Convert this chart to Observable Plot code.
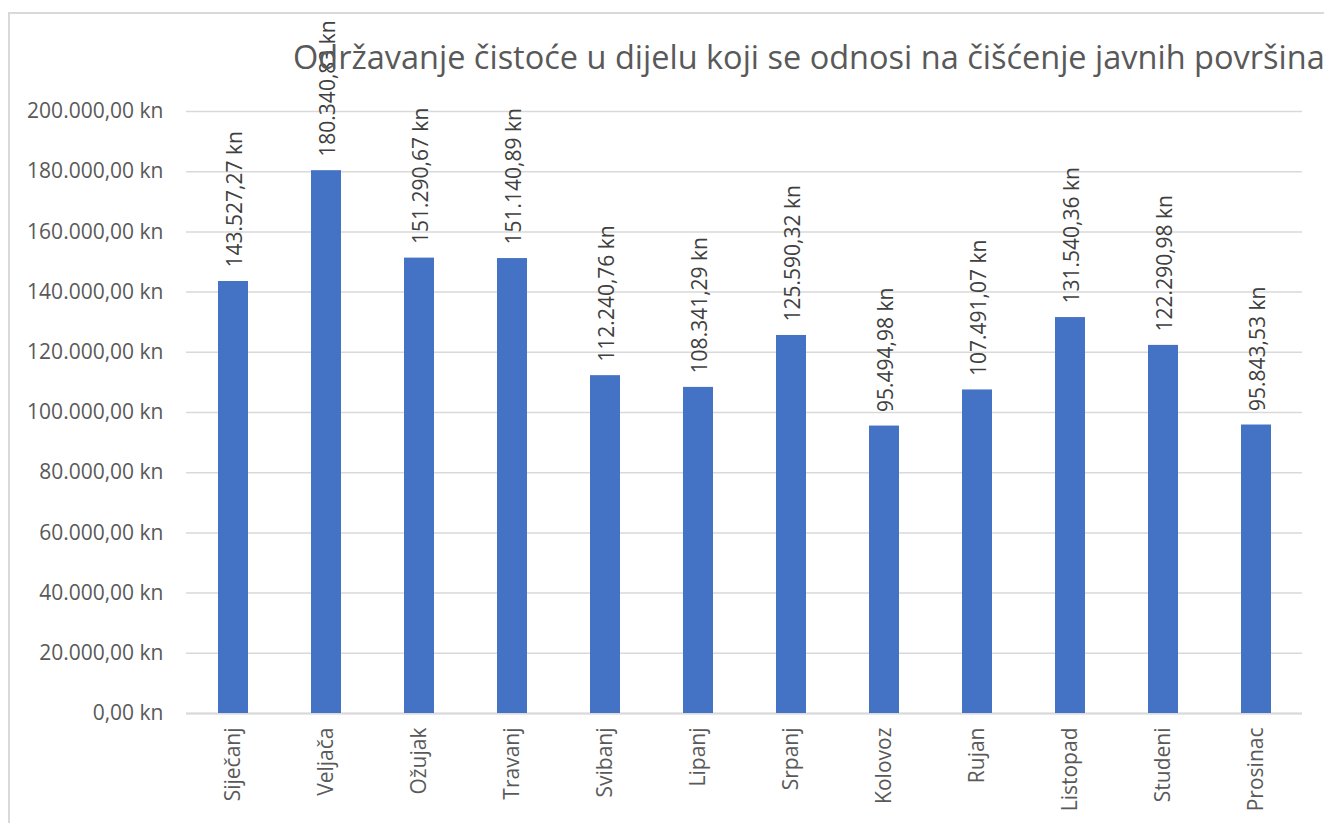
<!DOCTYPE html>
<html>
<head>
<meta charset="utf-8">
<script src="https://cdn.jsdelivr.net/npm/d3@7"></script>
<script src="https://cdn.jsdelivr.net/npm/@observablehq/plot@0.6"></script>
<style>
  html, body { margin: 0; padding: 0; background: #fff; }
  #wrap { position: relative; width: 1324px; height: 823px; overflow: hidden; font-family: "Open Sans", sans-serif; }
  #frame { position: absolute; left: 8px; top: 12px; width: 1400px; height: 900px; border-left: 2px solid #d9d9d9; border-top: 2px solid #d9d9d9; }
  #title { position: absolute; left: 293px; top: 34px; font-size: 32.5px; color: #595959; white-space: nowrap; font-family: "Open Sans", sans-serif; }
  #chart { position: absolute; left: 0; top: 0; }
</style>
</head>
<body>
<div id="wrap">
  <div id="frame"></div>
  <div id="chart"></div>
  <div id="title">Održavanje čistoće u dijelu koji se odnosi na čišćenje javnih površina</div>
</div>
<script>
const months = ["Siječanj","Veljača","Ožujak","Travanj","Svibanj","Lipanj","Srpanj","Kolovoz","Rujan","Listopad","Studeni","Prosinac"];
const values = [143527.27, 180340.83, 151290.67, 151140.89, 112240.76, 108341.29, 125590.32, 95494.98, 107491.07, 131540.36, 122290.98, 95843.53];
const yTicks = [0, 20000, 40000, 60000, 80000, 100000, 120000, 140000, 160000, 180000, 200000];

const locale = d3.formatLocale({decimal: ",", thousands: ".", grouping: [3], currency: ["", " kn"]});
const fmt = locale.format("$,.2f");

const data = months.map((m, i) => ({month: m, value: values[i]}));

const chart = Plot.plot({
  width: 1324,
  height: 823,
  marginLeft: 186,
  marginRight: 22,
  marginTop: 111,
  marginBottom: 110,
  style: {fontFamily: "Open Sans, sans-serif", background: "transparent", overflow: "visible"},
  x: {domain: months, paddingInner: 0.68, paddingOuter: 0.34, label: null},
  y: {domain: [0, 200000], label: null},
  marks: [
    Plot.gridY(yTicks, {stroke: "#d9d9d9", strokeOpacity: 1, strokeWidth: 1.5}),
    Plot.axisY({ticks: yTicks, tickFormat: fmt, tickSize: 0, tickPadding: 23, fontSize: 21, fill: "#595959", label: null}),
    Plot.axisX({tickSize: 0, tickPadding: 14, tickRotate: -90, fontSize: 21, fill: "#595959", label: null}),
    Plot.ruleY([0], {stroke: "#d9d9d9", strokeWidth: 2}),
    Plot.barY(data, {x: "month", y: "value", fill: "#4472C4"}),
    Plot.text(data, {x: "month", y: "value", text: d => fmt(d.value), rotate: -90, textAnchor: "start", dx: 2, dy: -14, fontSize: 21, fill: "#404040"})
  ]
});
document.getElementById("chart").appendChild(chart);
</script>
</body>
</html>
